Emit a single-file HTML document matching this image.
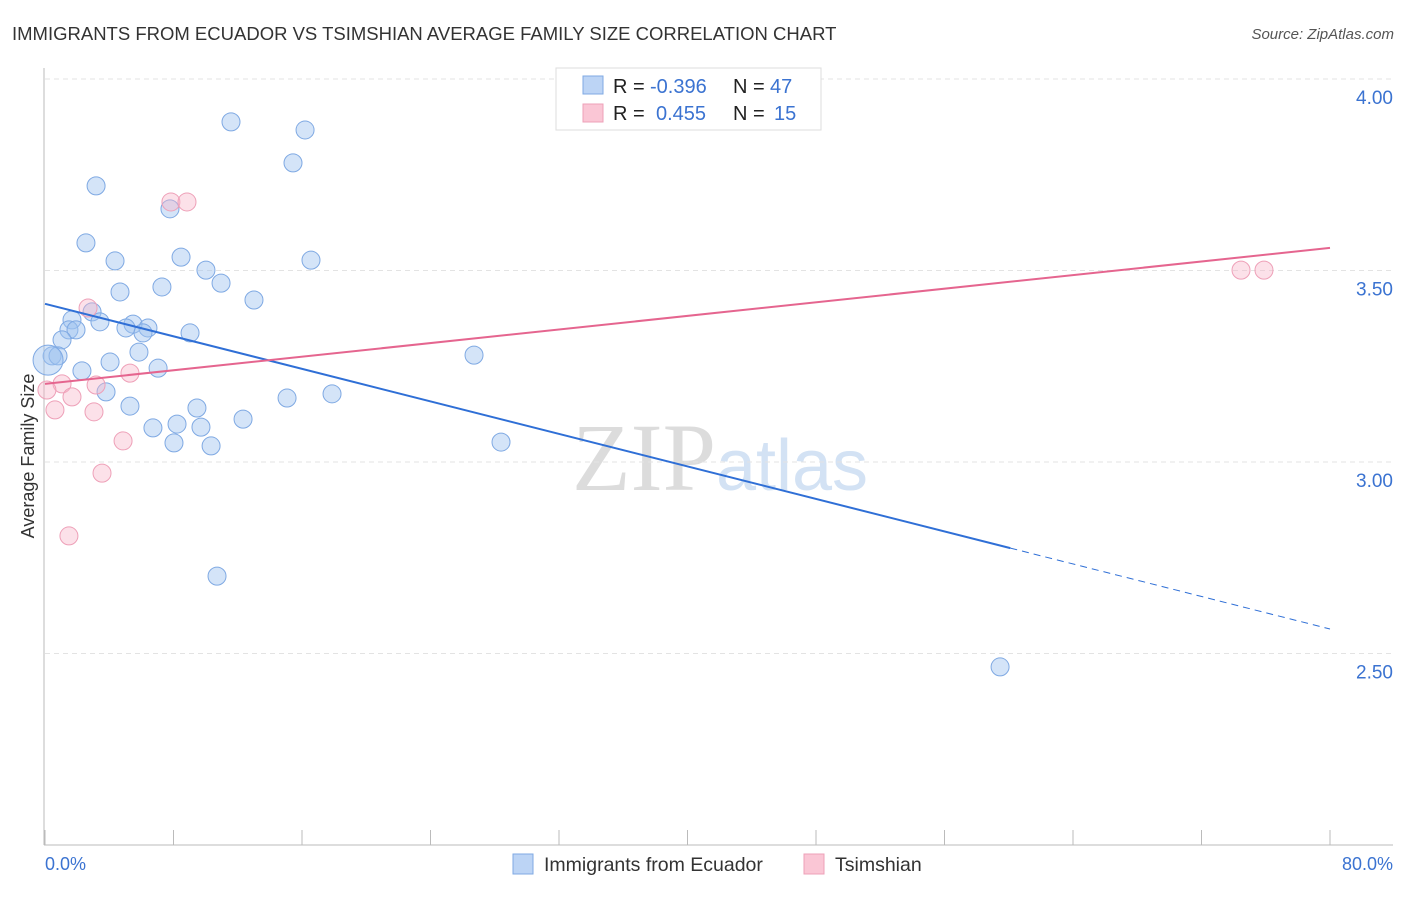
<!DOCTYPE html>
<html><head><meta charset="utf-8"><style>
body{margin:0;background:#fff;font-family:"Liberation Sans",sans-serif;}
</style></head><body>
<svg id="chart" width="1406" height="892" xmlns="http://www.w3.org/2000/svg" font-family="Liberation Sans, sans-serif">
<text x="12" y="40" font-size="18.5" fill="#333">IMMIGRANTS FROM ECUADOR VS TSIMSHIAN AVERAGE FAMILY SIZE CORRELATION CHART</text>
<text x="1394" y="39" font-size="15" fill="#555" font-style="italic" text-anchor="end">Source: ZipAtlas.com</text>
<text x="720" y="490" font-size="96" fill="#dcdcdc" text-anchor="middle" font-family="Liberation Serif, serif">ZIP<tspan fill="#d3e2f4" font-family="Liberation Sans, sans-serif" font-size="72">atlas</tspan></text>
<g id="grid"></g><g id="axes"></g><g id="pts"></g><g id="lines"></g>
<text x="34" y="456" font-size="18" fill="#333" text-anchor="middle" transform="rotate(-90 34 456)">Average Family Size</text>
<text x="45" y="870" font-size="18" fill="#3b73d1">0.0%</text>
<text x="1393" y="870" font-size="18" fill="#3b73d1" text-anchor="end">80.0%</text>
<g>
<rect x="556" y="68" width="265" height="62" fill="#fff" stroke="#ddd"/>
<rect x="583" y="76" width="20" height="18" fill="#bcd4f5" stroke="#7fa9e3"/>
<rect x="583" y="104" width="20" height="18" fill="#fac6d5" stroke="#eea0b8"/>
<text x="613" y="93" font-size="20" fill="#222">R = <tspan fill="#3b73d1" x="650">-0.396</tspan></text>
<text x="733" y="93" font-size="20" fill="#222">N = <tspan fill="#3b73d1" x="770">47</tspan></text>
<text x="613" y="120" font-size="20" fill="#222">R = <tspan fill="#3b73d1" x="656">0.455</tspan></text>
<text x="733" y="120" font-size="20" fill="#222">N = <tspan fill="#3b73d1" x="774">15</tspan></text>
</g>
<g>
<rect x="513" y="854" width="20" height="20" fill="#bcd4f5" stroke="#7fa9e3"/>
<text x="544" y="871" font-size="19.5" fill="#333">Immigrants from Ecuador</text>
<rect x="804" y="854" width="20" height="20" fill="#fac6d5" stroke="#eea0b8"/>
<text x="835" y="871" font-size="19.5" fill="#333">Tsimshian</text>
</g>
</svg>
<script>
const yTicks=[2.5,3.0,3.5,4.0];
const yTickLabels=["2.50","3.00","3.50","4.00"];
const xTicks=[0,8,16,24,32,40,48,56,64,72,80];
const blueX=[11.58,16.19,15.44,3.18,7.78,2.55,8.47,4.36,16.56,10.02,10.96,7.28,4.67,13.01,2.93,3.42,1.68,1.49,1.93,5.48,5.04,6.41,6.10,9.03,1.06,5.85,0.44,0.81,0.19,4.05,7.04,2.30,26.71,3.80,15.07,17.87,5.29,9.46,12.33,6.72,8.22,9.71,8.03,10.34,28.39,10.71,59.46];
const blueY=[3.888,3.867,3.781,3.721,3.661,3.572,3.535,3.525,3.527,3.501,3.467,3.457,3.444,3.423,3.392,3.366,3.371,3.345,3.345,3.360,3.350,3.350,3.337,3.337,3.319,3.287,3.277,3.277,3.266,3.261,3.245,3.238,3.279,3.183,3.167,3.178,3.146,3.141,3.112,3.089,3.099,3.091,3.050,3.042,3.052,2.702,2.465];
const pinkX=[7.84,8.84,2.68,5.29,1.06,3.18,0.12,1.68,0.62,3.05,4.86,3.55,1.49,74.46,75.89];
const pinkY=[3.679,3.679,3.402,3.232,3.204,3.201,3.188,3.170,3.136,3.131,3.055,2.971,2.807,3.501,3.501];
const blueTrend=[3.413,2.564]; const blueSolidEnd=60.1;
const pinkTrend=[3.204,3.559];
const NS="http://www.w3.org/2000/svg";
const sx=v=>45+v/80*1285, sy=v=>79+(4-v)*383;
function mk(tag,attrs,parent){const e=document.createElementNS(NS,tag);for(const k in attrs)e.setAttribute(k,attrs[k]);document.getElementById(parent).appendChild(e);return e;}
yTicks.forEach((t,i)=>{
 const g=mk('line',{x1:45,x2:1393,y1:sy(t),y2:sy(t),stroke:'#e3e3e3','stroke-dasharray':'5,4'},'grid');
 
 
 const l=mk('text',{x:1393,y:sy(t)+25,'font-size':19,fill:'#3b73d1','text-anchor':'end'},'axes');
 l.textContent=yTickLabels[i];
 
 
});
const ax=mk('line',{x1:44,x2:44,y1:68,y2:845,stroke:'#bbb'},'axes');


const bx=mk('line',{x1:44,x2:1393,y1:845,y2:845,stroke:'#bbb'},'axes');


xTicks.forEach(t=>{const e=mk('line',{x1:sx(t),x2:sx(t),y1:830,y2:845,stroke:'#bbb'},'axes');
 
 });
blueX.forEach((x,i)=>{const c=mk('circle',{cx:sx(x),cy:sy(blueY[i]),r:i==28?15:9,fill:'rgba(160,195,240,0.45)',stroke:'#7fa9e3','stroke-width':1},'pts');
 
 });
pinkX.forEach((x,i)=>{const c=mk('circle',{cx:sx(x),cy:sy(pinkY[i]),r:9,fill:'rgba(248,180,200,0.4)',stroke:'#eea0b8','stroke-width':1},'pts');
 
 });
const by=x=>blueTrend[0]+(blueTrend[1]-blueTrend[0])*x/80;
const l1=mk('line',{x1:sx(0),y1:sy(by(0)),x2:sx(blueSolidEnd),y2:sy(by(blueSolidEnd)),stroke:'#2f6fd6','stroke-width':2},'lines');


const l2=mk('line',{x1:sx(blueSolidEnd),y1:sy(by(blueSolidEnd)),x2:sx(80),y2:sy(by(80)),stroke:'#2f6fd6','stroke-width':1,'stroke-dasharray':'7,5'},'lines');


const l3=mk('line',{x1:sx(0),y1:sy(pinkTrend[0]),x2:sx(80),y2:sy(pinkTrend[1]),stroke:'#e5658f','stroke-width':2},'lines');


</script>
</body></html>
